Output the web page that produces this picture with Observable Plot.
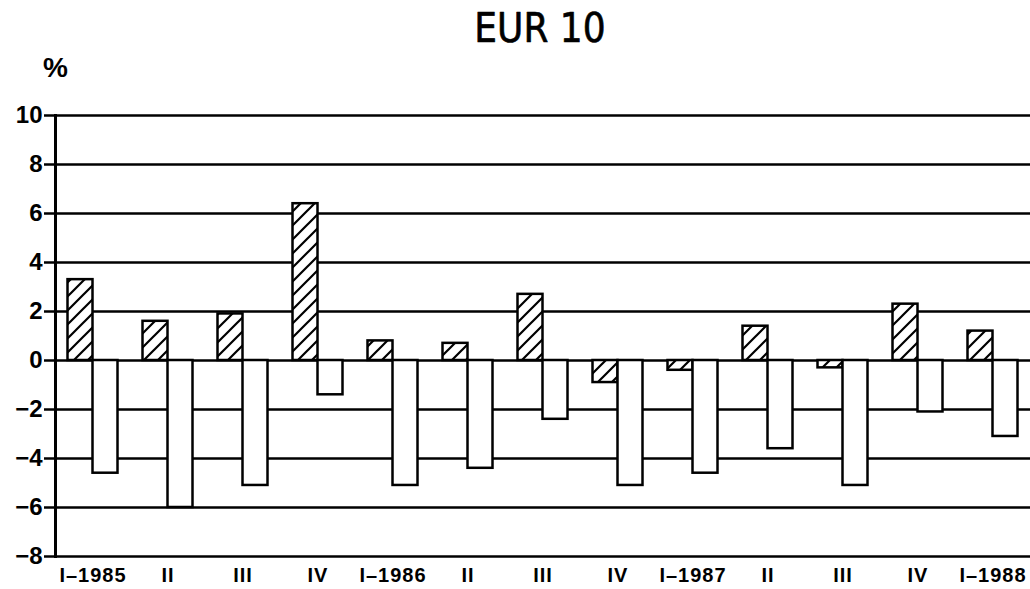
<!DOCTYPE html>
<html>
<head>
<meta charset="utf-8">
<script src="https://cdn.jsdelivr.net/npm/d3@7"></script>
<script src="https://cdn.jsdelivr.net/npm/@observablehq/plot@0.6"></script>
<style>
  html, body { margin: 0; padding: 0; background: #fff; }
  #chart svg { display: block; background: #fff; }
</style>
</head>
<body>
<div id="chart"></div>
<script>
// Quarters (unique keys) and their printed tick labels
const periods = ["1985Q1","1985Q2","1985Q3","1985Q4","1986Q1","1986Q2","1986Q3","1986Q4","1987Q1","1987Q2","1987Q3","1987Q4","1988Q1"];
const tickLabels = ["I–1985","II","III","IV","I–1986","II","III","IV","I–1987","II","III","IV","I–1988"];
// Hatched series (left bar of each quarter), %
const hatchedValues = [3.3, 1.6, 1.9, 6.4, 0.8, 0.7, 2.7, -0.9, -0.4, 1.4, -0.3, 2.3, 1.2];
// Open series (right bar of each quarter), %
const openValues = [-4.6, -6.0, -5.1, -1.4, -5.1, -4.4, -2.4, -5.1, -4.6, -3.6, -5.1, -2.1, -3.1];
const yTicks = [-8, -6, -4, -2, 0, 2, 4, 6, 8, 10];
const titleText = "EUR 10";
const unitText = "%";

const hatchedRows = periods.map((p, i) => ({period: p, value: hatchedValues[i]}));
const openRows = periods.map((p, i) => ({period: p, value: openValues[i]}));

const font = "'Liberation Sans', Arial, sans-serif";

const chart = Plot.plot({
  width: 1030,
  height: 589,
  marginLeft: 55,
  marginRight: 0,
  marginTop: 115,
  marginBottom: 33,
  style: {fontFamily: font, background: "#fff", color: "#000"},
  x: {domain: periods, padding: 0, label: null},
  y: {domain: [-8, 10], label: null},
  marks: [
    Plot.gridY(yTicks, {stroke: "#000", strokeOpacity: 1, strokeWidth: 2.5}),
    Plot.barY(hatchedRows, {x: "period", y: "value", fill: "url(#hatch)", stroke: "#000", strokeWidth: 2.5, insetLeft: 12.5, insetRight: 37.5}),
    Plot.barY(openRows, {x: "period", y: "value", fill: "#fff", stroke: "#000", strokeWidth: 2.5, insetLeft: 37.5, insetRight: 12.5}),
    Plot.axisY(yTicks, {tickSize: 11, tickPadding: 2, strokeWidth: 2.5, fontSize: 24, fontWeight: "bold", label: null}),
    Plot.axisX({tickSize: 0, tickPadding: 11, fontSize: 20, fontWeight: "bold", tickFormat: (d, i) => tickLabels[periods.indexOf(d)], label: null}),
    Plot.frame({anchor: "left", stroke: "#000", strokeWidth: 3}),
    Plot.text([titleText], {frameAnchor: "top", dx: -3, dy: -86, fontSize: 40, fontFamily: "'DejaVu Sans Condensed', 'Liberation Sans', sans-serif", fill: "#000", stroke: "#000", strokeWidth: 0.6, lineAnchor: "middle"}),
    Plot.text([unitText], {frameAnchor: "top-left", dy: -47, fontSize: 28, fontWeight: "bold", textAnchor: "middle", lineAnchor: "middle", fill: "#000"})
  ]
});

const svg = d3.select(chart);
const defs = svg.insert("defs", ":first-child");
const pat = defs.append("pattern")
  .attr("id", "hatch")
  .attr("patternUnits", "userSpaceOnUse")
  .attr("width", 14)
  .attr("height", 14);
pat.append("rect").attr("width", 14).attr("height", 14).attr("fill", "#fff");
pat.append("path")
  .attr("d", "M-3.5,3.5 L3.5,-3.5 M0,14 L14,0 M10.5,17.5 L17.5,10.5")
  .attr("stroke", "#000")
  .attr("stroke-width", 2.2);
// x tick labels: slightly wider spacing, as in the printed original
svg.selectAll("g[aria-label='x-axis tick label'] text").style("letter-spacing", "1px");
document.getElementById("chart").appendChild(chart);
</script>
</body>
</html>
